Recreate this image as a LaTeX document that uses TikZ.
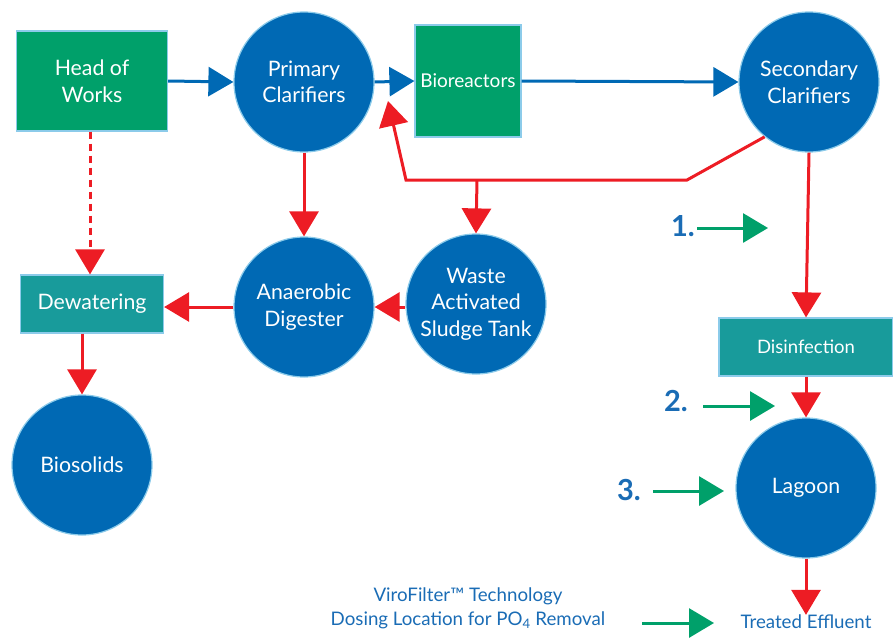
\documentclass[tikz,border=0pt]{standalone}
\usepackage{fontspec}
\setmainfont{Lato}
\usetikzlibrary{arrows.meta}
\definecolor{cblue}{RGB}{0,105,180}
\definecolor{cgreen}{RGB}{0,160,106}
\definecolor{cteal}{RGB}{24,155,155}
\definecolor{cred}{RGB}{237,28,36}
\definecolor{cedge}{RGB}{140,203,234}
\definecolor{ctext}{RGB}{26,108,181}
\tikzset{
  circ/.style={circle,fill=cblue,draw=cedge,line width=1.2pt,minimum size=140pt,inner sep=0pt,text=white,align=center,font=\fontsize{21.3}{26.5}\selectfont},
  gbox/.style={rectangle,fill=cgreen,draw=cedge,line width=1.2pt,text=white,align=center,inner sep=0pt,font=\fontsize{21.3}{26.5}\selectfont},
  tbox/.style={rectangle,fill=cteal,draw=cedge,line width=1.2pt,text=white,align=center,inner sep=0pt,font=\fontsize{21.3}{26.5}\selectfont},
  tip/.tip={Triangle[length=25pt,width=29pt]},
  bflow/.style={draw=cblue,line width=3pt,-{tip}},
  rflow/.style={draw=cred,line width=3pt,-{tip}},
  gflow/.style={draw=cgreen,line width=3pt,-{tip}},
  num/.style={text=ctext,font=\bfseries\fontsize{29}{30}\selectfont,inner sep=0pt},
  lbl/.style={text=ctext,font=\fontsize{18.7}{24}\selectfont,inner sep=0pt,align=center},
}
\begin{document}
\begin{tikzpicture}[x=1pt,y=-1pt]
\useasboundingbox (0,0) rectangle (893,637);
% nodes
\node[gbox,minimum width=151pt,minimum height=100pt] (how) at (92,81) {Head of\\Works};
\node[circ] (pc) at (304,82) {Primary\\Clarifiers};
\node[gbox,minimum width=106pt,minimum height=112pt,font=\fontsize{19}{22}\selectfont] (bior) at (468,81) {Bioreactors};
\node[circ] (sc) at (809,82) {Secondary\\Clarifiers};
\node[circ] (was) at (476,304) {Waste\\Activated\\Sludge Tank};
\node[circ] (ad) at (304,307) {Anaerobic\\Digester};
\node[tbox,minimum width=143pt,minimum height=58pt] (dew) at (92,304) {Dewatering};
\node[circ] (bio) at (82,465) {Biosolids};
\node[tbox,minimum width=174pt,minimum height=58pt,font=\fontsize{18.5}{22}\selectfont] (dis) at (806,347) {Disinfection};
\node[circ] (lag) at (806,488) {Lagoon};
\node[lbl] (te) at (806,622) {Treated Effluent};
\node[lbl] (leg) at (468,608) {ViroFilter™ Technology\\Dosing Location for PO\textsubscript{4} Removal};
\node[num] (n1) at (683,226) {1.};
\node[num] (n2) at (676,401) {2.};
\node[num] (n3) at (629,490) {3.};
% blue flows
\draw[bflow] (how.east) -- (pc.west);
\draw[bflow] (pc.east) -- (bior.west);
\draw[bflow] (bior.east) -- (sc.west);
% red flows
\coordinate (rbend) at (687,180);
\coordinate (rcorner) at (406,180);
\coordinate (rtip) at (388,101);
\coordinate (rbranch) at (477,180);
\draw[rflow] (sc.231) -- (rbend) -- (rcorner) -- (rtip);
\draw[rflow] (rbranch) -- (was.north);
\draw[rflow] (pc.south) -- (ad.north);
\draw[rflow] (was.west |- ad.east) -- (ad.east);
\draw[rflow] (ad.west) -- (ad.west -| dew.east);
\draw[rflow,dash pattern=on 7pt off 5pt] ([xshift=-2pt]how.south) -- ([xshift=-2pt]dew.north);
\draw[rflow] (bio.north |- dew.south) -- (bio.north);
\draw[rflow] (sc.south) -- (dis.north);
\draw[rflow] (dis.south) -- (lag.north);
\draw[rflow] (lag.south) -- (te.north);
% green dosing arrows
\coordinate (g1s) at (697,228); \coordinate (g1e) at (768,228);
\coordinate (g2s) at (703,406); \coordinate (g2e) at (775,406);
\coordinate (g3s) at (653,491); \coordinate (g3e) at (724,491);
\coordinate (g4s) at (642,623); \coordinate (g4e) at (714,623);
\draw[gflow] (g1s) -- (g1e);
\draw[gflow] (g2s) -- (g2e);
\draw[gflow] (g3s) -- (g3e);
\draw[gflow] (g4s) -- (g4e);
\end{tikzpicture}
\end{document}
